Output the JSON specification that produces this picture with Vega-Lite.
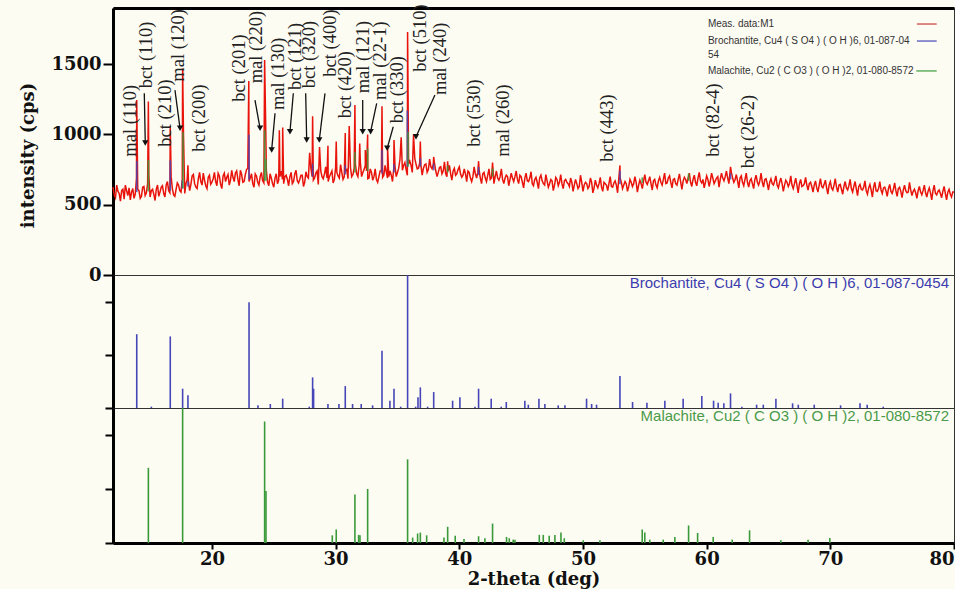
{
"$schema": "https://vega.github.io/schema/vega-lite/v6.json",
"background": "#fdfcf3",
"padding": {"left": 18, "top": 3, "right": 0, "bottom": 0},
"spacing": 0,
"bounds": "flush",
"config": {
 "view": {"stroke": "#333", "strokeWidth": 1},
 "axis": {"grid": false, "labelFont": "DejaVu Serif", "labelFontWeight": "bold", "labelFontSize": 18, "labelColor": "#111", "titleFont": "DejaVu Serif", "titleFontWeight": "bold", "titleFontSize": 18, "titleColor": "#111", "domainColor": "#000", "tickColor": "#000"}
},
"datasets": {
 "meas": [
{"t":12.0,"c":625},{"t":12.2,"c":550},{"t":12.4,"c":595},{"t":12.6,"c":525},{"t":12.8,"c":610},
{"t":13.0,"c":640},{"t":13.2,"c":565},{"t":13.4,"c":535},{"t":13.6,"c":615},{"t":13.8,"c":575},
{"t":14.0,"c":610},{"t":14.2,"c":545},{"t":14.4,"c":625},{"t":14.6,"c":565},{"t":14.8,"c":650},
{"t":15.0,"c":555},{"t":15.2,"c":610},{"t":15.4,"c":530},{"t":15.6,"c":640},{"t":15.8,"c":590},
{"t":16.0,"c":635},{"t":16.2,"c":555},{"t":16.4,"c":665},{"t":16.6,"c":585},{"t":16.8,"c":615},
{"t":17.0,"c":560},{"t":17.2,"c":655},{"t":17.4,"c":600},{"t":17.6,"c":680},{"t":17.8,"c":580},
{"t":18.0,"c":680},{"t":18.2,"c":600},{"t":18.4,"c":705},{"t":18.6,"c":650},{"t":18.8,"c":615},
{"t":19.0,"c":730},{"t":19.2,"c":640},{"t":19.4,"c":675},{"t":19.6,"c":615},{"t":19.8,"c":710},
{"t":20.0,"c":660},{"t":20.2,"c":730},{"t":20.4,"c":635},{"t":20.6,"c":705},{"t":20.8,"c":615},
{"t":21.0,"c":725},{"t":21.2,"c":695},{"t":21.4,"c":640},{"t":21.6,"c":745},{"t":21.8,"c":665},
{"t":22.0,"c":740},{"t":22.2,"c":635},{"t":22.4,"c":715},{"t":22.6,"c":665},{"t":22.8,"c":750},
{"t":23.0,"c":665},{"t":23.2,"c":720},{"t":23.4,"c":625},{"t":23.6,"c":705},{"t":23.8,"c":640},
{"t":24.0,"c":730},{"t":24.2,"c":655},{"t":24.4,"c":745},{"t":24.6,"c":635},{"t":24.8,"c":690},
{"t":25.0,"c":625},{"t":25.2,"c":720},{"t":25.4,"c":675},{"t":25.6,"c":740},{"t":25.8,"c":650},
{"t":26.0,"c":710},{"t":26.2,"c":635},{"t":26.4,"c":730},{"t":26.6,"c":665},{"t":26.8,"c":745},
{"t":27.0,"c":655},{"t":27.2,"c":710},{"t":27.4,"c":630},{"t":27.6,"c":735},{"t":27.8,"c":690},
{"t":28.0,"c":760},{"t":28.2,"c":675},{"t":28.4,"c":725},{"t":28.6,"c":645},{"t":28.8,"c":740},
{"t":29.0,"c":685},{"t":29.2,"c":770},{"t":29.4,"c":665},{"t":29.6,"c":720},{"t":29.8,"c":655},
{"t":30.0,"c":765},{"t":30.2,"c":705},{"t":30.4,"c":785},{"t":30.6,"c":680},{"t":30.8,"c":740},
{"t":31.0,"c":685},{"t":31.2,"c":765},{"t":31.4,"c":715},{"t":31.6,"c":790},{"t":31.8,"c":700},
{"t":32.0,"c":800},{"t":32.2,"c":730},{"t":32.4,"c":780},{"t":32.6,"c":685},{"t":32.8,"c":755},
{"t":33.0,"c":675},{"t":33.2,"c":755},{"t":33.4,"c":660},{"t":33.6,"c":740},{"t":33.8,"c":695},
{"t":34.0,"c":780},{"t":34.2,"c":690},{"t":34.4,"c":740},{"t":34.6,"c":665},{"t":34.8,"c":775},
{"t":35.0,"c":730},{"t":35.2,"c":820},{"t":35.4,"c":745},{"t":35.6,"c":800},{"t":35.8,"c":710},
{"t":36.0,"c":810},{"t":36.2,"c":730},{"t":36.4,"c":830},{"t":36.6,"c":755},{"t":36.8,"c":800},
{"t":37.0,"c":710},{"t":37.2,"c":785},{"t":37.4,"c":730},{"t":37.6,"c":825},{"t":37.8,"c":755},
{"t":38.0,"c":790},{"t":38.2,"c":700},{"t":38.4,"c":765},{"t":38.6,"c":720},{"t":38.8,"c":805},
{"t":39.0,"c":700},{"t":39.2,"c":780},{"t":39.4,"c":675},{"t":39.6,"c":760},{"t":39.8,"c":720},
{"t":40.0,"c":770},{"t":40.2,"c":695},{"t":40.4,"c":755},{"t":40.6,"c":665},{"t":40.8,"c":730},
{"t":41.0,"c":665},{"t":41.2,"c":770},{"t":41.4,"c":690},{"t":41.6,"c":750},{"t":41.8,"c":650},
{"t":42.0,"c":730},{"t":42.2,"c":665},{"t":42.4,"c":755},{"t":42.6,"c":690},{"t":42.8,"c":650},
{"t":43.0,"c":740},{"t":43.2,"c":675},{"t":43.4,"c":755},{"t":43.6,"c":650},{"t":43.8,"c":710},
{"t":44.0,"c":635},{"t":44.2,"c":725},{"t":44.4,"c":665},{"t":44.6,"c":740},{"t":44.8,"c":650},
{"t":45.0,"c":700},{"t":45.2,"c":620},{"t":45.4,"c":725},{"t":45.6,"c":665},{"t":45.8,"c":735},
{"t":46.0,"c":635},{"t":46.2,"c":695},{"t":46.4,"c":615},{"t":46.6,"c":710},{"t":46.8,"c":650},
{"t":47.0,"c":715},{"t":47.2,"c":625},{"t":47.4,"c":680},{"t":47.6,"c":600},{"t":47.8,"c":695},
{"t":48.0,"c":635},{"t":48.2,"c":715},{"t":48.4,"c":615},{"t":48.6,"c":680},{"t":48.8,"c":650},
{"t":49.0,"c":690},{"t":49.2,"c":595},{"t":49.4,"c":680},{"t":49.6,"c":615},{"t":49.8,"c":710},
{"t":50.0,"c":595},{"t":50.2,"c":660},{"t":50.4,"c":615},{"t":50.6,"c":690},{"t":50.8,"c":585},
{"t":51.0,"c":675},{"t":51.2,"c":620},{"t":51.4,"c":695},{"t":51.6,"c":595},{"t":51.8,"c":650},
{"t":52.0,"c":600},{"t":52.2,"c":700},{"t":52.4,"c":625},{"t":52.6,"c":670},{"t":52.8,"c":585},
{"t":53.0,"c":690},{"t":53.2,"c":615},{"t":53.4,"c":665},{"t":53.6,"c":595},{"t":53.8,"c":680},
{"t":54.0,"c":630},{"t":54.2,"c":700},{"t":54.4,"c":590},{"t":54.6,"c":675},{"t":54.8,"c":615},
{"t":55.0,"c":715},{"t":55.2,"c":645},{"t":55.4,"c":700},{"t":55.6,"c":605},{"t":55.8,"c":680},
{"t":56.0,"c":620},{"t":56.2,"c":695},{"t":56.4,"c":640},{"t":56.6,"c":725},{"t":56.8,"c":655},
{"t":57.0,"c":705},{"t":57.2,"c":620},{"t":57.4,"c":685},{"t":57.6,"c":640},{"t":57.8,"c":720},
{"t":58.0,"c":610},{"t":58.2,"c":695},{"t":58.4,"c":650},{"t":58.6,"c":725},{"t":58.8,"c":630},
{"t":59.0,"c":710},{"t":59.2,"c":635},{"t":59.4,"c":730},{"t":59.6,"c":655},{"t":59.8,"c":620},
{"t":60.0,"c":705},{"t":60.2,"c":630},{"t":60.4,"c":725},{"t":60.6,"c":650},{"t":60.8,"c":690},
{"t":61.0,"c":625},{"t":61.2,"c":725},{"t":61.4,"c":670},{"t":61.6,"c":740},{"t":61.8,"c":650},
{"t":62.0,"c":730},{"t":62.2,"c":660},{"t":62.4,"c":715},{"t":62.6,"c":620},{"t":62.8,"c":705},
{"t":63.0,"c":635},{"t":63.2,"c":725},{"t":63.4,"c":625},{"t":63.6,"c":685},{"t":63.8,"c":615},
{"t":64.0,"c":710},{"t":64.2,"c":640},{"t":64.4,"c":725},{"t":64.6,"c":625},{"t":64.8,"c":685},
{"t":65.0,"c":605},{"t":65.2,"c":685},{"t":65.4,"c":640},{"t":65.6,"c":705},{"t":65.8,"c":620},
{"t":66.0,"c":690},{"t":66.2,"c":595},{"t":66.4,"c":675},{"t":66.6,"c":630},{"t":66.8,"c":705},
{"t":67.0,"c":615},{"t":67.2,"c":690},{"t":67.4,"c":585},{"t":67.6,"c":680},{"t":67.8,"c":635},
{"t":68.0,"c":695},{"t":68.2,"c":605},{"t":68.4,"c":660},{"t":68.6,"c":590},{"t":68.8,"c":670},
{"t":69.0,"c":590},{"t":69.2,"c":685},{"t":69.4,"c":620},{"t":69.6,"c":675},{"t":69.8,"c":575},
{"t":70.0,"c":665},{"t":70.2,"c":605},{"t":70.4,"c":685},{"t":70.6,"c":590},{"t":70.8,"c":645},
{"t":71.0,"c":575},{"t":71.2,"c":665},{"t":71.4,"c":605},{"t":71.6,"c":680},{"t":71.8,"c":590},
{"t":72.0,"c":665},{"t":72.2,"c":565},{"t":72.4,"c":645},{"t":72.6,"c":605},{"t":72.8,"c":670},
{"t":73.0,"c":575},{"t":73.2,"c":645},{"t":73.4,"c":555},{"t":73.6,"c":660},{"t":73.8,"c":595},
{"t":74.0,"c":665},{"t":74.2,"c":580},{"t":74.4,"c":625},{"t":74.6,"c":560},{"t":74.8,"c":645},
{"t":75.0,"c":580},{"t":75.2,"c":655},{"t":75.4,"c":560},{"t":75.6,"c":625},{"t":75.8,"c":550},
{"t":76.0,"c":640},{"t":76.2,"c":585},{"t":76.4,"c":660},{"t":76.6,"c":565},{"t":76.8,"c":610},
{"t":77.0,"c":545},{"t":77.2,"c":630},{"t":77.4,"c":570},{"t":77.6,"c":640},{"t":77.8,"c":555},
{"t":78.0,"c":620},{"t":78.2,"c":535},{"t":78.4,"c":640},{"t":78.6,"c":570},{"t":78.8,"c":605},
{"t":79.0,"c":550},{"t":79.2,"c":630},{"t":79.4,"c":535},{"t":79.6,"c":610},{"t":79.8,"c":555},
{"t":80.0,"c":590},
{"t":12.1,"c":570},{"t":12.3,"c":640},{"t":12.5,"c":580},{"t":12.7,"c":600},{"t":12.9,"c":540},
{"t":13.1,"c":600},{"t":13.3,"c":620},{"t":13.5,"c":590},{"t":13.7,"c":545},{"t":13.9,"c":690},
{"t":14.1,"c":600},{"t":14.3,"c":560},{"t":14.5,"c":630},{"t":14.7,"c":585},{"t":14.9,"c":700},
{"t":15.1,"c":600},{"t":15.3,"c":575},{"t":15.5,"c":610},{"t":15.7,"c":560},{"t":15.9,"c":625},
{"t":16.1,"c":580},{"t":16.3,"c":640},{"t":16.5,"c":600},{"t":16.7,"c":700},{"t":16.9,"c":570},
{"t":17.1,"c":610},{"t":17.3,"c":640},{"t":17.5,"c":590},{"t":17.9,"c":650},
{"t":18.1,"c":665},{"t":18.3,"c":645},{"t":18.5,"c":715},{"t":18.7,"c":625},{"t":18.9,"c":685},
{"t":19.1,"c":665},{"t":19.3,"c":725},{"t":19.5,"c":635},{"t":19.7,"c":695},{"t":19.9,"c":645},
{"t":20.1,"c":685},{"t":20.3,"c":665},{"t":20.5,"c":725},{"t":20.7,"c":645},{"t":20.9,"c":705},
{"t":21.1,"c":665},{"t":21.3,"c":715},{"t":21.5,"c":675},{"t":21.7,"c":695},{"t":21.9,"c":725},
{"t":22.1,"c":680},{"t":22.3,"c":745},{"t":22.5,"c":660},{"t":22.7,"c":715},{"t":22.9,"c":760},
{"t":23.1,"c":690},{"t":23.3,"c":650},{"t":23.5,"c":720},{"t":23.7,"c":660},{"t":23.9,"c":700},
{"t":24.1,"c":670},{"t":24.5,"c":660},{"t":24.7,"c":720},{"t":24.9,"c":650},
{"t":25.1,"c":690},{"t":25.3,"c":650},{"t":25.5,"c":700},{"t":25.7,"c":680},{"t":25.9,"c":700},
{"t":26.1,"c":680},{"t":26.3,"c":700},{"t":26.5,"c":650},{"t":26.7,"c":720},{"t":26.9,"c":670},
{"t":27.1,"c":680},{"t":27.3,"c":710},{"t":27.5,"c":660},{"t":27.7,"c":700},
{"t":28.1,"c":700},{"t":28.3,"c":690},{"t":28.5,"c":740},{"t":28.9,"c":700},
{"t":29.1,"c":720},{"t":29.3,"c":690},{"t":29.5,"c":700},{"t":29.7,"c":740},{"t":29.9,"c":680},
{"t":30.1,"c":730},{"t":30.3,"c":690},{"t":30.5,"c":730},{"t":30.7,"c":700},{"t":30.9,"c":750},
{"t":31.3,"c":700},{"t":31.5,"c":760},{"t":31.7,"c":720},{"t":31.9,"c":780},
{"t":32.1,"c":700},{"t":32.3,"c":750},{"t":32.5,"c":740},{"t":32.7,"c":690},{"t":32.9,"c":730},
{"t":33.1,"c":700},{"t":33.3,"c":680},{"t":33.5,"c":700},{"t":33.7,"c":740},{"t":33.9,"c":710},
{"t":34.1,"c":730},{"t":34.3,"c":700},{"t":34.5,"c":710},{"t":34.7,"c":760},{"t":34.9,"c":700},
{"t":35.1,"c":760},{"t":35.5,"c":780},{"t":35.7,"c":750},{"t":35.9,"c":790},
{"t":36.1,"c":780},{"t":36.5,"c":790},{"t":36.7,"c":760},{"t":36.9,"c":780},
{"t":37.1,"c":760},{"t":37.3,"c":790},{"t":37.5,"c":750},{"t":37.7,"c":770},{"t":37.9,"c":790},
{"t":38.1,"c":740},{"t":38.3,"c":730},{"t":38.5,"c":770},{"t":38.7,"c":740},{"t":38.9,"c":720},
{"t":39.1,"c":740},{"t":39.3,"c":720},{"t":39.5,"c":740},{"t":39.7,"c":710},{"t":39.9,"c":750},
{"t":40.1,"c":720},{"t":40.3,"c":710},{"t":40.5,"c":720},{"t":40.7,"c":740},{"t":40.9,"c":690},
{"t":41.1,"c":700},{"t":41.3,"c":720},{"t":41.5,"c":730},{"t":41.7,"c":690},{"t":41.9,"c":720},
{"t":42.1,"c":690},{"t":42.3,"c":710},{"t":42.5,"c":680},{"t":42.9,"c":700},
{"t":43.1,"c":690},{"t":43.3,"c":700},{"t":43.5,"c":680},{"t":43.7,"c":690},{"t":43.9,"c":700},
{"t":44.1,"c":680},{"t":44.3,"c":690},{"t":44.5,"c":700},{"t":44.7,"c":680},{"t":44.9,"c":710},
{"t":45.1,"c":660},{"t":45.3,"c":690},{"t":45.5,"c":670},{"t":45.7,"c":690},{"t":45.9,"c":650},
{"t":46.1,"c":680},{"t":46.3,"c":660},{"t":46.5,"c":690},{"t":46.7,"c":670},{"t":46.9,"c":640},
{"t":47.1,"c":670},{"t":47.3,"c":650},{"t":47.5,"c":670},{"t":47.7,"c":640},{"t":47.9,"c":680},
{"t":48.1,"c":660},{"t":48.3,"c":650},{"t":48.5,"c":670},{"t":48.7,"c":660},{"t":48.9,"c":630},
{"t":49.1,"c":660},{"t":49.3,"c":640},{"t":49.5,"c":650},{"t":49.7,"c":630},{"t":49.9,"c":660},
{"t":50.1,"c":640},{"t":50.3,"c":650},{"t":50.5,"c":630},{"t":50.7,"c":660},{"t":50.9,"c":620},
{"t":51.1,"c":640},{"t":51.3,"c":650},{"t":51.5,"c":625},{"t":51.7,"c":660},{"t":51.9,"c":640},
{"t":52.1,"c":650},{"t":52.3,"c":630},{"t":52.5,"c":655},{"t":52.7,"c":640},{"t":52.9,"c":690},
{"t":53.1,"c":660},{"t":53.3,"c":640},{"t":53.5,"c":650},{"t":53.7,"c":630},{"t":53.9,"c":660},
{"t":54.1,"c":650},{"t":54.3,"c":660},{"t":54.5,"c":640},{"t":54.7,"c":650},{"t":54.9,"c":670},
{"t":55.1,"c":660},{"t":55.3,"c":670},{"t":55.5,"c":650},{"t":55.7,"c":670},{"t":55.9,"c":640},
{"t":56.1,"c":670},{"t":56.3,"c":660},{"t":56.5,"c":680},{"t":56.7,"c":650},{"t":56.9,"c":690},
{"t":57.1,"c":660},{"t":57.3,"c":680},{"t":57.5,"c":650},{"t":57.7,"c":680},{"t":57.9,"c":660},
{"t":58.1,"c":670},{"t":58.3,"c":680},{"t":58.5,"c":690},{"t":58.7,"c":660},{"t":58.9,"c":680},
{"t":59.1,"c":660},{"t":59.3,"c":690},{"t":59.5,"c":670},{"t":59.7,"c":680},{"t":59.9,"c":660},
{"t":60.1,"c":680},{"t":60.3,"c":670},{"t":60.5,"c":690},{"t":60.7,"c":670},{"t":60.9,"c":700},
{"t":61.1,"c":680},{"t":61.3,"c":690},{"t":61.5,"c":700},{"t":61.7,"c":690},
{"t":62.1,"c":690},{"t":62.3,"c":680},{"t":62.5,"c":670},{"t":62.7,"c":690},{"t":62.9,"c":660},
{"t":63.1,"c":680},{"t":63.3,"c":660},{"t":63.5,"c":670},{"t":63.7,"c":650},{"t":63.9,"c":680},
{"t":64.1,"c":660},{"t":64.3,"c":670},{"t":64.5,"c":660},{"t":64.7,"c":680},{"t":64.9,"c":650},
{"t":65.1,"c":660},{"t":65.3,"c":650},{"t":65.5,"c":670},{"t":65.7,"c":640},{"t":65.9,"c":660},
{"t":66.1,"c":650},{"t":66.3,"c":640},{"t":66.5,"c":660},{"t":66.7,"c":650},{"t":66.9,"c":640},
{"t":67.1,"c":650},{"t":67.3,"c":640},{"t":67.5,"c":650},{"t":67.7,"c":630},{"t":67.9,"c":650},
{"t":68.1,"c":640},{"t":68.3,"c":650},{"t":68.5,"c":630},{"t":68.7,"c":640},{"t":68.9,"c":620},
{"t":69.1,"c":640},{"t":69.3,"c":630},{"t":69.5,"c":645},{"t":69.7,"c":620},{"t":69.9,"c":640},
{"t":70.1,"c":620},{"t":70.3,"c":640},{"t":70.5,"c":625},{"t":70.7,"c":640},{"t":70.9,"c":610},
{"t":71.1,"c":630},{"t":71.3,"c":620},{"t":71.5,"c":635},{"t":71.7,"c":615},{"t":71.9,"c":630},
{"t":72.1,"c":615},{"t":72.3,"c":630},{"t":72.5,"c":610},{"t":72.7,"c":625},{"t":72.9,"c":600},
{"t":73.1,"c":620},{"t":73.3,"c":605},{"t":73.5,"c":625},{"t":73.7,"c":600},{"t":73.9,"c":615},
{"t":74.1,"c":605},{"t":74.3,"c":620},{"t":74.5,"c":600},{"t":74.7,"c":615},{"t":74.9,"c":595},
{"t":75.1,"c":610},{"t":75.3,"c":600},{"t":75.5,"c":615},{"t":75.7,"c":595},{"t":75.9,"c":605},
{"t":76.1,"c":600},{"t":76.3,"c":590},{"t":76.5,"c":605},{"t":76.7,"c":595},{"t":76.9,"c":585},
{"t":77.1,"c":600},{"t":77.3,"c":590},{"t":77.5,"c":600},{"t":77.7,"c":585},{"t":77.9,"c":595},
{"t":78.1,"c":585},{"t":78.3,"c":600},{"t":78.5,"c":580},{"t":78.7,"c":595},{"t":78.9,"c":580},
{"t":79.1,"c":595},{"t":79.3,"c":580},{"t":79.5,"c":590},{"t":79.7,"c":575},{"t":79.9,"c":590},
{"t":13.92,"c":1245},{"t":14.86,"c":1235},{"t":16.63,"c":1060},{"t":17.63,"c":1470},{"t":17.7,"c":1000},{"t":18.06,"c":780},
{"t":22.98,"c":1380},{"t":24.26,"c":1530},{"t":24.34,"c":1100},{"t":25.45,"c":1030},{"t":25.72,"c":1050},{"t":27.9,"c":870},
{"t":28.14,"c":1130},{"t":28.7,"c":910},{"t":29.38,"c":920},{"t":30.05,"c":950},{"t":30.78,"c":1010},{"t":31.1,"c":1060},
{"t":31.56,"c":1210},{"t":31.95,"c":935},{"t":32.4,"c":890},{"t":32.59,"c":1000},{"t":33.75,"c":1200},{"t":34.2,"c":910},
{"t":34.72,"c":960},{"t":35.3,"c":980},{"t":35.82,"c":1730},{"t":36.3,"c":1000},{"t":36.85,"c":950},{"t":37.93,"c":840},
{"t":39.06,"c":810},{"t":41.56,"c":810},{"t":42.69,"c":800},{"t":52.99,"c":780},{"t":61.93,"c":770}
 ],
 "topsticks": [
{"t":13.92,"lo":590,"hi":812,"ph":"bct"},{"t":16.63,"lo":600,"hi":815,"ph":"bct"},{"t":17.6,"lo":615,"hi":673,"ph":"bct"},
{"t":18.06,"lo":630,"hi":668,"ph":"bct"},{"t":23.0,"lo":680,"hi":998,"ph":"bct"},{"t":28.14,"lo":700,"hi":792,"ph":"bct"},
{"t":30.78,"lo":715,"hi":781,"ph":"bct"},{"t":33.75,"lo":720,"hi":892,"ph":"bct"},{"t":34.72,"lo":730,"hi":788,"ph":"bct"},
{"t":35.8,"lo":770,"hi":1170,"ph":"bct"},{"t":36.85,"lo":770,"hi":832,"ph":"bct"},{"t":37.93,"lo":745,"hi":793,"ph":"bct"},
{"t":41.56,"lo":710,"hi":768,"ph":"bct"},{"t":52.99,"lo":645,"hi":741,"ph":"bct"},{"t":61.93,"lo":680,"hi":724,"ph":"bct"},
{"t":14.86,"lo":595,"hi":818,"ph":"mal"},{"t":17.66,"lo":615,"hi":1015,"ph":"mal"},{"t":24.26,"lo":670,"hi":1030,"ph":"mal"},
{"t":24.37,"lo":670,"hi":824,"ph":"mal"},{"t":31.56,"lo":730,"hi":874,"ph":"mal"},{"t":32.59,"lo":740,"hi":900,"ph":"mal"},
{"t":35.86,"lo":770,"hi":1018,"ph":"mal"},{"t":39.06,"lo":730,"hi":778,"ph":"mal"},{"t":42.69,"lo":700,"hi":758,"ph":"mal"},
{"t":54.79,"lo":655,"hi":695,"ph":"mal"},{"t":58.54,"lo":670,"hi":722,"ph":"mal"}
 ],
 "labels": [
{"t":13.34,"c":842,"lab":"mal (110)"},{"t":14.69,"c":1329,"lab":"bct (110)"},{"t":16.2,"c":913,"lab":"bct (210)"},
{"t":17.28,"c":1376,"lab":"mal (120)"},{"t":18.96,"c":877,"lab":"bct (200)"},{"t":22.2,"c":1233,"lab":"bct (201)"},
{"t":23.6,"c":1364,"lab":"mal (220)"},{"t":25.36,"c":1174,"lab":"mal (130)"},{"t":26.72,"c":1316,"lab":"bct (121)"},
{"t":27.87,"c":1329,"lab":"bct (320)"},{"t":29.54,"c":1411,"lab":"bct (400)"},{"t":30.76,"c":1115,"lab":"bct (420)"},
{"t":32.23,"c":1293,"lab":"mal (121)"},{"t":33.58,"c":1245,"lab":"mal (22-1)"},{"t":34.93,"c":1079,"lab":"bct (330)"},
{"t":36.82,"c":1447,"lab":"bct (510)"},{"t":38.44,"c":1281,"lab":"mal (240)"},{"t":41.18,"c":913,"lab":"bct (530)"},
{"t":43.5,"c":842,"lab":"mal (260)"},{"t":51.91,"c":806,"lab":"bct (443)"},{"t":60.53,"c":842,"lab":"bct (82-4)"},
{"t":63.36,"c":759,"lab":"bct (26-2)"}
 ],
 "arrows": [
{"t":14.53,"c":1293,"t2":14.61,"c2":940},{"t":17.01,"c":1316,"t2":17.42,"c2":1044},{"t":23.48,"c":1245,"t2":23.89,"c2":1044},
{"t":25.1,"c":1151,"t2":24.83,"c2":890},{"t":26.58,"c":1293,"t2":26.31,"c2":1020},{"t":27.58,"c":1293,"t2":27.66,"c2":961},
{"t":29.14,"c":1293,"t2":28.68,"c2":961},{"t":32.19,"c":1245,"t2":32.19,"c2":1020},{"t":33.32,"c":1222,"t2":32.83,"c2":1020},
{"t":34.66,"c":1055,"t2":34.17,"c2":902},{"t":38.03,"c":1281,"t2":36.5,"c2":984}
 ],
 "legend": [
{"t":60.1,"c":1786,"txt":"Meas. data:M1"},
{"t":60.1,"c":1665,"txt":"Brochantite, Cu4 ( S O4 ) ( O H )6, 01-087-04"},
{"t":60.1,"c":1566,"txt":"54"},
{"t":60.1,"c":1452,"txt":"Malachite, Cu2 ( C O3 ) ( O H )2, 01-080-8572"}
 ],
 "legendlines": [
{"t":77.0,"t2":78.6,"c":1786,"ph":"meas"},{"t":77.0,"t2":78.6,"c":1665,"ph":"bct"},{"t":76.95,"t2":78.6,"c":1452,"ph":"mal"}
 ],
 "bct": [
{"t":13.92,"i":55.5},{"t":15.1,"i":1},{"t":16.63,"i":53.8},{"t":17.63,"i":14.5},{"t":18.06,"i":9.5},{"t":23.0,"i":79.5},
{"t":23.72,"i":2},{"t":24.72,"i":3},{"t":25.72,"i":7},{"t":27.87,"i":1},{"t":28.14,"i":23},{"t":28.22,"i":14.5},
{"t":29.38,"i":3},{"t":30.27,"i":3},{"t":30.78,"i":16.5},{"t":31.37,"i":3},{"t":32.07,"i":3},{"t":32.99,"i":2},
{"t":33.75,"i":43},{"t":34.39,"i":5.5},{"t":34.72,"i":14.5},{"t":35.26,"i":1},{"t":35.82,"i":100},{"t":36.47,"i":1},
{"t":36.66,"i":8},{"t":36.85,"i":15.5},{"t":37.44,"i":1},{"t":37.93,"i":12},{"t":39.46,"i":5.5},{"t":40.05,"i":8},
{"t":41.27,"i":1},{"t":41.56,"i":14.5},{"t":42.58,"i":7},{"t":43.39,"i":1},{"t":43.8,"i":4.5},{"t":45.3,"i":5.5},
{"t":45.58,"i":2.5},{"t":46.44,"i":7},{"t":46.92,"i":3},{"t":48.0,"i":2},{"t":48.54,"i":2},{"t":50.29,"i":7},
{"t":50.7,"i":3},{"t":51.1,"i":2.5},{"t":52.99,"i":24},{"t":54.01,"i":4.5},{"t":55.17,"i":4},{"t":56.62,"i":5.5},
{"t":58.1,"i":7},{"t":59.61,"i":9},{"t":60.56,"i":5.5},{"t":60.93,"i":4},{"t":61.39,"i":3.5},{"t":61.93,"i":11},
{"t":62.85,"i":1},{"t":64.04,"i":2.5},{"t":64.58,"i":2.5},{"t":65.6,"i":7},{"t":66.95,"i":3.5},{"t":67.41,"i":2.5},
{"t":68.7,"i":2.5},{"t":70.83,"i":2},{"t":72.4,"i":3.5},{"t":72.98,"i":2.5},{"t":74.28,"i":1}
 ],
 "mal": [
{"t":14.86,"i":55.7},{"t":17.63,"i":100},{"t":24.26,"i":90},{"t":24.37,"i":38.6},{"t":29.73,"i":5.7},{"t":30.05,"i":10},
{"t":31.56,"i":36},{"t":31.86,"i":6},{"t":31.97,"i":5.7},{"t":32.59,"i":40},{"t":35.82,"i":62},{"t":36.23,"i":4},
{"t":36.63,"i":7},{"t":36.85,"i":7.7},{"t":37.36,"i":5.7},{"t":38.76,"i":4},{"t":39.06,"i":12},{"t":39.67,"i":5.4},
{"t":40.38,"i":3},{"t":41.56,"i":5},{"t":42.07,"i":3.5},{"t":42.69,"i":14.4},{"t":43.82,"i":4.5},{"t":44.04,"i":3.5},
{"t":44.36,"i":2.5},{"t":44.5,"i":2.5},{"t":46.47,"i":6},{"t":46.79,"i":6},{"t":47.27,"i":5.4},{"t":47.73,"i":6},
{"t":48.22,"i":7.7},{"t":48.49,"i":3.5},{"t":50.02,"i":2},{"t":51.37,"i":2},{"t":54.79,"i":10},{"t":55.0,"i":7.7},
{"t":55.4,"i":2.5},{"t":56.49,"i":2.5},{"t":57.43,"i":4.5},{"t":58.54,"i":13},{"t":59.27,"i":7.4},{"t":60.53,"i":4.5},
{"t":62.07,"i":2.5},{"t":63.47,"i":9.4},{"t":66.0,"i":2},{"t":68.2,"i":2.5},{"t":69.96,"i":3.7}
 ],
 "bcttitle": [{"t":79.6,"i":94,"txt":"Brochantite, Cu4 ( S O4 ) ( O H )6, 01-087-0454"}],
 "maltitle": [{"t":79.6,"i":94,"txt":"Malachite, Cu2 ( C O3 ) ( O H )2, 01-080-8572"}]
},
"vconcat": [
 {
  "width": 841, "height": 267,
  "layer": [
   {"data": {"name": "meas"}, "mark": {"type": "line", "color": "#e8140c", "strokeWidth": 1.5},
    "encoding": {
     "x": {"field": "t", "type": "quantitative", "scale": {"domain": [12, 80], "nice": false, "zero": false}, "axis": {"orient": "top", "labels": false, "ticks": false, "domainWidth": 3, "title": null}},
     "y": {"field": "c", "type": "quantitative", "scale": {"domain": [0, 1900], "nice": false}, "axis": {"values": [0, 500, 1000, 1500], "format": "d", "title": "intensity (cps)", "domainWidth": 3, "tickWidth": 2, "tickSize": 10, "labelPadding": 2, "titleX": -76, "titleY": 147}}
    }},
   {"data": {"name": "topsticks"}, "mark": {"type": "rule", "strokeWidth": 1.6, "opacity": 0.85},
    "encoding": {
     "x": {"field": "t", "type": "quantitative"},
     "y": {"field": "lo", "type": "quantitative"},
     "y2": {"field": "hi"},
     "color": {"field": "ph", "type": "nominal", "scale": {"domain": ["meas", "bct", "mal"], "range": ["#c83a3a", "#4646b8", "#3a9a3a"]}, "legend": null}
    }},
   {"data": {"name": "arrows"}, "mark": {"type": "rule", "color": "#111", "strokeWidth": 1.3},
    "encoding": {
     "x": {"field": "t", "type": "quantitative"},
     "y": {"field": "c", "type": "quantitative"},
     "x2": {"field": "t2"}, "y2": {"field": "c2"}
    }},
   {"data": {"name": "arrows"}, "mark": {"type": "point", "shape": "triangle-down", "filled": true, "color": "#111", "size": 40, "opacity": 1},
    "encoding": {
     "x": {"field": "t2", "type": "quantitative"},
     "y": {"field": "c2", "type": "quantitative"}
    }},
   {"data": {"name": "labels"}, "mark": {"type": "text", "angle": 270, "align": "left", "baseline": "middle", "font": "Liberation Serif", "fontSize": 18.5, "color": "#222"},
    "encoding": {
     "x": {"field": "t", "type": "quantitative"},
     "y": {"field": "c", "type": "quantitative"},
     "text": {"field": "lab"}
    }},
   {"data": {"name": "legend"}, "mark": {"type": "text", "align": "left", "baseline": "middle", "font": "Liberation Sans", "fontSize": 10, "color": "#333"},
    "encoding": {
     "x": {"field": "t", "type": "quantitative"},
     "y": {"field": "c", "type": "quantitative"},
     "text": {"field": "txt"}
    }},
   {"data": {"name": "legendlines"}, "mark": {"type": "rule", "strokeWidth": 1.2},
    "encoding": {
     "x": {"field": "t", "type": "quantitative"},
     "x2": {"field": "t2"},
     "y": {"field": "c", "type": "quantitative"},
     "color": {"field": "ph", "type": "nominal", "legend": null}
    }}
  ]
 },
 {
  "width": 841, "height": 133,
  "layer": [
   {"data": {"name": "bct"}, "mark": {"type": "rule", "color": "#4646b8", "strokeWidth": 1.6},
    "encoding": {
     "x": {"field": "t", "type": "quantitative", "scale": {"domain": [12, 80], "nice": false, "zero": false}, "axis": null},
     "y": {"field": "i", "type": "quantitative", "scale": {"domain": [0, 100], "nice": false}, "axis": {"values": [0, 20, 40, 60, 80, 100], "labels": false, "title": null, "domainWidth": 3, "tickWidth": 2, "tickSize": 8}},
     "y2": {"datum": 0}
    }},
   {"data": {"name": "bcttitle"}, "mark": {"type": "text", "align": "right", "baseline": "middle", "font": "Liberation Sans", "fontSize": 15, "color": "#3c3cae"},
    "encoding": {
     "x": {"field": "t", "type": "quantitative", "axis": null},
     "y": {"field": "i", "type": "quantitative"},
     "text": {"field": "txt"}
    }}
  ]
 },
 {
  "width": 841, "height": 135,
  "layer": [
   {"data": {"name": "mal"}, "mark": {"type": "rule", "color": "#3a9a3a", "strokeWidth": 1.6},
    "encoding": {
     "x": {"field": "t", "type": "quantitative", "scale": {"domain": [12, 80], "nice": false, "zero": false}, "axis": {"values": [20, 30, 40, 50, 60, 70, 80], "title": "2-theta (deg)", "domainWidth": 3, "tickWidth": 2, "tickSize": 6, "labelFlush": true, "labelPadding": 1, "titlePadding": 2}},
     "y": {"field": "i", "type": "quantitative", "scale": {"domain": [0, 100], "nice": false}, "axis": {"values": [0, 20, 40, 60, 80, 100], "labels": false, "title": null, "domainWidth": 3, "tickWidth": 2, "tickSize": 8}},
     "y2": {"datum": 0}
    }},
   {"data": {"name": "maltitle"}, "mark": {"type": "text", "align": "right", "baseline": "middle", "font": "Liberation Sans", "fontSize": 15, "color": "#4a9a4a"},
    "encoding": {
     "x": {"field": "t", "type": "quantitative"},
     "y": {"field": "i", "type": "quantitative"},
     "text": {"field": "txt"}
    }}
  ]
 }
]
}
